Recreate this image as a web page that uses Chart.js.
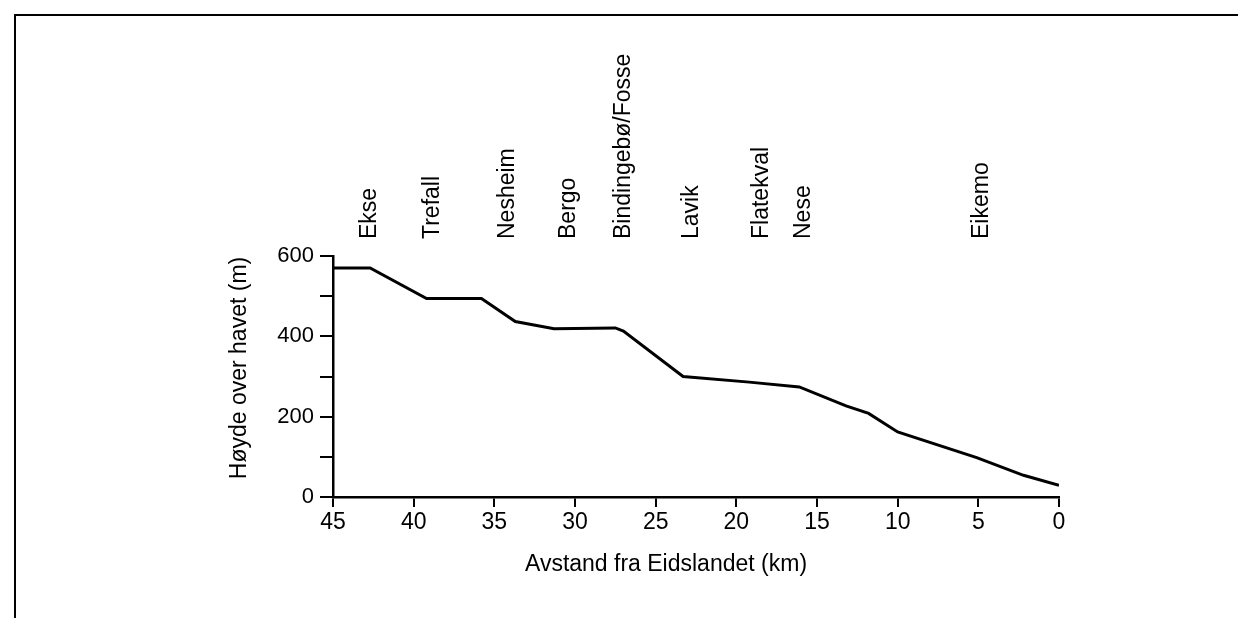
<!DOCTYPE html>
<html lang="no">
<head>
  <meta charset="UTF-8">
  <title>Høydeprofil</title>
  <script src="https://cdn.jsdelivr.net/npm/chart.js@4"></script>
  <style>
    * {
      margin: 0;
      padding: 0;
      box-sizing: border-box;
    }
    body {
      width: 1238px;
      height: 618px;
      overflow: hidden;
      background: #ffffff;
      position: relative;
      font-family: "Liberation Sans", Arial, sans-serif;
    }
    .frame {
      position: absolute;
      left: 14px;
      top: 14px;
      width: 1240px;
      height: 620px;
      border-top: 2px solid #000;
      border-left: 2px solid #000;
    }
    #profile {
      position: absolute;
      left: 0;
      top: 0;
    }
  </style>
</head>
<body>
  <div class="frame"></div>
  <canvas id="profile" width="1238" height="618"></canvas>

  <script>
    // distance from Eidslandet (km) and height above sea level (m)
    const distanceKm = [45, 42.7, 39.2, 35.8, 33.7, 31.3, 27.5, 27.0, 23.3, 19.2, 16.1, 13.2, 11.8, 10.0, 5.1, 2.2, 0];
    const heightM = [570, 570, 494, 494, 437, 419, 421, 413, 300, 286, 274, 227, 208, 162, 98, 54, 29];

    // place names written above the profile
    const placeNames = ['Ekse', 'Trefall', 'Nesheim', 'Bergo', 'Bindingebø/Fosse', 'Lavik', 'Flatekval', 'Nese', 'Eikemo'];
    const placeKm = [42.7, 38.8, 34.2, 30.4, 27.0, 22.8, 18.4, 15.8, 4.8];

    const xTitle = 'Avstand fra Eidslandet (km)';
    const yTitle = 'Høyde over havet (m)';

    const ink = '#000';
    const fontFamily = '"Liberation Sans", Arial, sans-serif';

    const points = distanceKm.map((km, i) => ({ x: km, y: heightM[i] }));

    const textPlugin = {
      id: 'profileText',
      afterDraw(chart) {
        const ctx = chart.ctx;
        const xs = chart.scales.x;
        ctx.save();
        ctx.fillStyle = ink;

        // place names, rotated
        ctx.font = '23px ' + fontFamily;
        ctx.textAlign = 'left';
        ctx.textBaseline = 'middle';
        placeNames.forEach((name, i) => {
          ctx.save();
          ctx.translate(xs.getPixelForValue(placeKm[i]), 239);
          ctx.rotate(-Math.PI / 2);
          ctx.fillText(name, 0, 0);
          ctx.restore();
        });

        // axis titles
        ctx.textAlign = 'center';
        ctx.fillText(xTitle, 666, 565);
        ctx.save();
        ctx.translate(240, 368);
        ctx.rotate(-Math.PI / 2);
        ctx.fillText(yTitle, 0, 0);
        ctx.restore();

        ctx.restore();
      }
    };

    new Chart(document.getElementById('profile').getContext('2d'), {
      type: 'line',
      data: {
        datasets: [{
          data: points,
          borderColor: ink,
          borderWidth: 3,
          pointRadius: 0,
          tension: 0,
          fill: false
        }]
      },
      options: {
        responsive: false,
        animation: false,
        devicePixelRatio: 1,
        layout: {
          padding: { left: 226, right: 179, top: 256, bottom: 39 }
        },
        plugins: {
          legend: { display: false },
          tooltip: { enabled: false }
        },
        scales: {
          x: {
            type: 'linear',
            min: 0,
            max: 45,
            reverse: true,
            afterFit(scale) { scale.height = 82; },
            grid: { drawOnChartArea: false, drawTicks: true, tickLength: 10, color: ink, lineWidth: 2 },
            border: { display: true, color: ink, width: 2.5 },
            ticks: {
              stepSize: 5,
              padding: 2,
              color: ink,
              maxRotation: 0,
              font: { family: fontFamily, size: 23 }
            }
          },
          y: {
            type: 'linear',
            min: 0,
            max: 600,
            afterFit(scale) { scale.width = 107; },
            grid: { drawOnChartArea: false, drawTicks: true, tickLength: 13, color: ink, lineWidth: 2 },
            border: { display: true, color: ink, width: 2.5 },
            ticks: {
              stepSize: 100,
              padding: 6,
              color: ink,
              font: { family: fontFamily, size: 22 },
              callback: v => (v % 200 === 0 ? v : '')
            }
          }
        }
      },
      plugins: [textPlugin]
    });
  </script>
</body>
</html>
